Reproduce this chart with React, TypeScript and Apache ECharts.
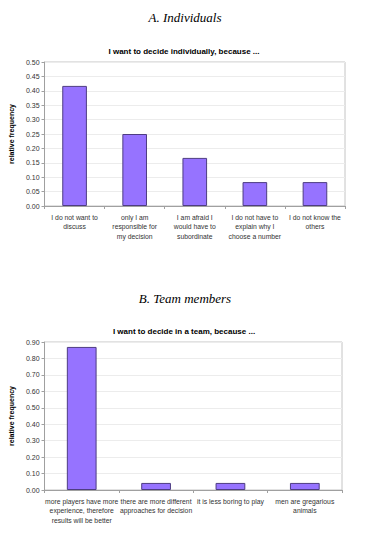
import React, { useEffect, useRef } from "react";
import * as echarts from "echarts";

const categoriesA = [
  "I do not want to\ndiscuss",
  "only I am\nresponsible for\nmy decision",
  "I am afraid I\nwould have to\nsubordinate",
  "I do not have to\nexplain why I\nchoose a number",
  "I do not know the\nothers",
];
const valuesA = [0.417, 0.25, 0.167, 0.083, 0.083];

const categoriesB = [
  "more players have more\nexperience, therefore\nresults will be better",
  "there are more different\napproaches for decision",
  "it is less boring to play",
  "men are gregarious\nanimals",
];
const valuesB = [0.87, 0.043, 0.043, 0.043];

const panelTitles = ["A. Individuals", "B. Team members"];
const chartTitles = [
  "I want to decide individually, because ...",
  "I want to decide in a team, because ...",
];
const yAxisName = "relative frequency";

const BAR = "#9673ff";
const BAR_BORDER = "#4e3d82";
const FONT = "Liberation Sans, Arial, sans-serif";

export default function App() {
  const ref = useRef<HTMLDivElement>(null);
  useEffect(() => {
    if (!ref.current) return;
    const chart = echarts.init(ref.current, undefined, { renderer: "svg" });
    const yAxisCommon = (max: number, interval: number, decimals: number) => ({
      type: "value" as const,
      min: 0,
      max,
      interval,
      name: yAxisName,
      nameLocation: "middle" as const,
      nameRotate: 90,
      nameGap: 25,
      nameTextStyle: { fontFamily: FONT, fontSize: 7, fontWeight: "bold" as const, color: "#000" },
      axisLine: { show: true, lineStyle: { color: "#a0a0a0" } },
      axisTick: { show: true, length: 3, lineStyle: { color: "#a0a0a0" } },
      axisLabel: {
        fontFamily: FONT,
        fontSize: 7,
        color: "#333",
        margin: 5,
        formatter: (v: number) => v.toFixed(decimals),
      },
      splitLine: { show: true, lineStyle: { color: "#ececec", width: 1 } },
    });
    const xAxisCommon = (cats: string[]) => ({
      type: "category" as const,
      data: cats,
      axisLine: { show: true, lineStyle: { color: "#a0a0a0" } },
      axisTick: { show: true, length: 3, alignWithLabel: false, lineStyle: { color: "#a0a0a0" } },
      axisLabel: {
        fontFamily: FONT,
        fontSize: 6.8,
        color: "#333",
        margin: 7,
        lineHeight: 9.3,
        interval: 0,
      },
    });
    const panelStyle = {
      fontFamily: "Liberation Serif, Times New Roman, serif",
      fontStyle: "italic" as const,
      fontWeight: "normal" as const,
      fontSize: 13,
      color: "#000",
    };
    const chartTitleStyle = { fontFamily: FONT, fontWeight: "bold" as const, fontSize: 8, color: "#000" };
    chart.setOption({
      animation: false,
      title: [
        { text: panelTitles[0], left: 180, top: 6, textAlign: "center", textStyle: panelStyle },
        { text: chartTitles[0], left: 179, top: 42, textAlign: "center", textStyle: chartTitleStyle },
        { text: panelTitles[1], left: 180, top: 287, textAlign: "center", textStyle: panelStyle },
        { text: chartTitles[1], left: 179, top: 322, textAlign: "center", textStyle: chartTitleStyle },
      ],
      grid: [
        { left: 43, right: 31, top: 62, bottom: 333, show: true, borderColor: "#c4c4c4", borderWidth: 1 },
        { left: 42, right: 34, top: 342, bottom: 49, show: true, borderColor: "#c4c4c4", borderWidth: 1 },
      ],
      xAxis: [
        { ...xAxisCommon(categoriesA), gridIndex: 0 },
        { ...xAxisCommon(categoriesB), gridIndex: 1 },
      ],
      yAxis: [
        { ...yAxisCommon(0.5, 0.05, 2), gridIndex: 0 },
        { ...yAxisCommon(0.9, 0.1, 2), gridIndex: 1 },
      ],
      series: [
        {
          type: "bar",
          xAxisIndex: 0,
          yAxisIndex: 0,
          data: valuesA,
          barWidth: "41%",
          itemStyle: { color: BAR, borderColor: BAR_BORDER, borderWidth: 1 },
        },
        {
          type: "bar",
          xAxisIndex: 1,
          yAxisIndex: 1,
          data: valuesB,
          barWidth: "40%",
          itemStyle: { color: BAR, borderColor: BAR_BORDER, borderWidth: 1 },
        },
      ],
    });
    return () => chart.dispose();
  }, []);
  return (
    <div
      ref={ref}
      style={{ position: "absolute", left: 0, top: 0, width: 376, height: 539, background: "#fff" }}
    />
  );
}
